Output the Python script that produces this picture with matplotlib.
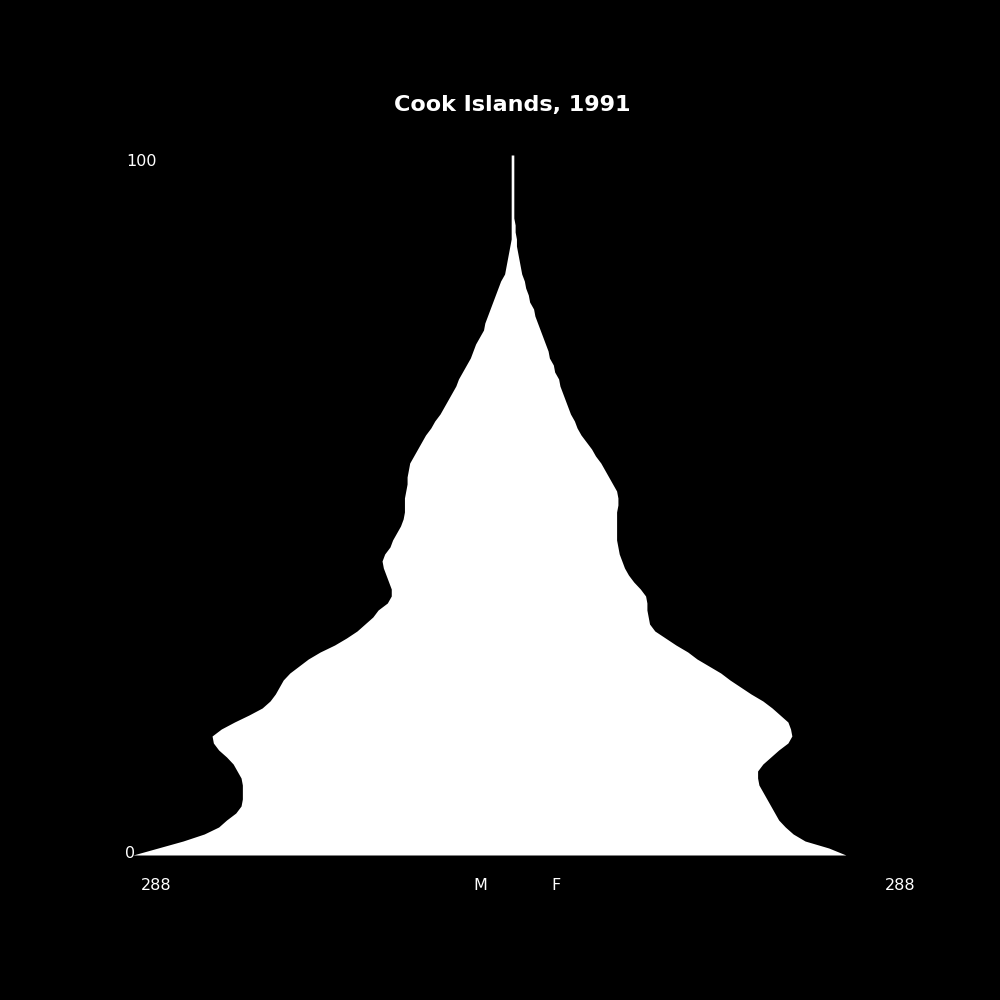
import matplotlib
matplotlib.use('Agg')
import matplotlib.pyplot as plt

# Population by single year of age
ages = list(range(0, 101))

male = [288, 269, 250, 234, 223, 217, 210, 206, 205, 205,
        205, 206, 209, 212, 217, 223, 227, 228, 221, 211,
        200, 190, 184, 180, 177, 174, 169, 162, 155, 146,
        135, 126, 118, 112, 106, 102, 95, 92, 92, 94,
        96, 98, 99, 97, 93, 91, 88, 85, 83, 82,
        82, 82, 81, 80, 80, 79, 78, 75, 72, 69,
        66, 62, 59, 55, 52, 49, 46, 43, 41, 38,
        35, 32, 30, 28, 25, 22, 21, 19, 17, 15,
        13, 11, 9, 6, 5, 4, 3, 2, 1, 1,
        1, 1, 1, 1, 1, 1, 1, 1, 1, 1, 1]

female = [253, 240, 222, 213, 207, 202, 199, 196, 193, 190,
          187, 186, 186, 190, 196, 202, 209, 212, 211, 209,
          203, 197, 190, 181, 173, 165, 158, 149, 140, 133,
          124, 116, 108, 104, 103, 102, 102, 101, 97, 92,
          88, 85, 83, 81, 80, 79, 79, 79, 79, 79,
          80, 80, 79, 76, 73, 70, 67, 63, 60, 56,
          52, 49, 47, 44, 42, 40, 38, 36, 35, 32,
          31, 28, 27, 25, 23, 21, 19, 17, 16, 13,
          12, 10, 9, 7, 6, 5, 4, 3, 3, 2,
          2, 1, 1, 1, 1, 1, 1, 1, 1, 1, 1]

TITLE = 'Cook Islands, 1991'
MAX_VALUE = 288

fig = plt.figure(figsize=(10, 10), dpi=100, facecolor='black')
ax = fig.add_axes([0.133, 0.145, 0.759, 0.70])
ax.set_facecolor('black')

ax.fill_betweenx(ages, [-m for m in male], female, color='white', linewidth=0)

ax.set_xlim(-MAX_VALUE, MAX_VALUE)
ax.set_ylim(0, 100)
ax.axis('off')

# Texts placed in figure coordinates
fig.text(0.512, 0.895, TITLE, color='white', fontsize=16, fontweight='bold',
         ha='center', va='center')
fig.text(0.141, 0.839, '100', color='white', fontsize=11.5, ha='center', va='center')
fig.text(0.130, 0.146, '0', color='white', fontsize=11.5, ha='center', va='center')
fig.text(0.156, 0.115, str(MAX_VALUE), color='white', fontsize=11.5, ha='center', va='center')
fig.text(0.480, 0.115, 'M', color='white', fontsize=11.5, ha='center', va='center')
fig.text(0.556, 0.115, 'F', color='white', fontsize=11.5, ha='center', va='center')
fig.text(0.900, 0.115, str(MAX_VALUE), color='white', fontsize=11.5, ha='center', va='center')

plt.savefig('out.png', facecolor='black')
